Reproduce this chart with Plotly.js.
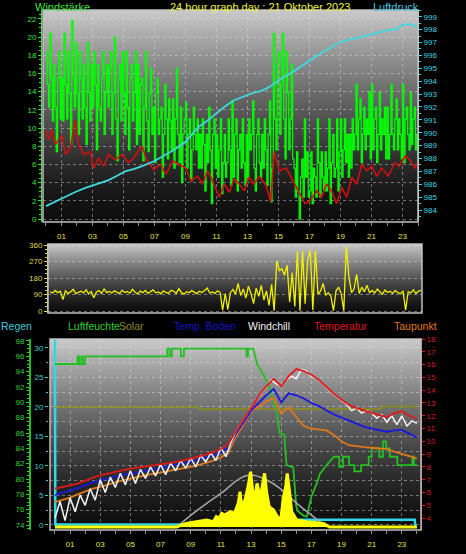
<!DOCTYPE html>
<html><head><meta charset="utf-8">
<script src="https://cdn.plot.ly/plotly-3.0.1.min.js"></script>
<style>html,body{margin:0;padding:0;background:#000;overflow:hidden}#c{width:466px;height:554px}</style>
</head><body><div id="c"></div>
<script>
// ================= DATA =================
const hourTicks  = [1,3,5,7,9,11,13,15,17,19,21,23];
const hourLabels = ['01','03','05','07','09','11','13','15','17','19','21','23'];

// Windstärke (gusts), every 5 minutes from 00:00 to 24:00
const windGust = [
 18.4,14.8,12.3,20.4,15.5,10.8,17.0,12.3,7.4,15.5,18.4,11.0,
 15.5,10.8,20.4,14.8,11.0,18.4,13.9,8.2,21.8,15.5,12.3,19.4,
 13.9,9.3,18.4,15.5,11.0,17.0,12.3,8.2,19.4,13.9,10.8,17.0,
 12.3,18.4,14.8,7.6,17.0,12.3,10.8,15.5,18.4,9.3,13.9,17.0,
 12.3,16.6,18.4,9.3,13.9,20.0,11.0,6.4,15.5,17.0,10.8,18.4,
 13.9,9.3,18.4,12.3,7.6,15.5,17.0,10.8,13.9,18.4,8.2,17.0,
 9.3,14.8,15.5,6.4,12.3,18.4,10.8,7.4,13.9,16.6,9.3,12.3,
 6.2,13.9,15.5,9.3,11.0,12.3,4.6,9.3,14.8,11.0,6.6,13.2,
 10.8,7.6,13.2,5.6,11.0,16.6,9.3,6.2,12.3,4.0,9.3,11.0,
 12.8,5.6,9.3,11.0,4.2,7.6,12.3,9.3,7.6,11.0,5.6,9.3,
 5.6,11.0,8.2,3.1,9.3,6.2,12.3,7.6,1.7,9.3,11.0,5.6,
 9.3,4.6,7.6,11.0,2.8,6.2,9.3,4.6,6.2,11.0,7.6,3.7,
 13.0,4.6,9.3,11.0,3.1,7.6,9.3,5.6,11.0,6.2,3.7,9.3,
 4.6,11.0,7.6,9.3,13.0,5.6,3.1,9.3,11.0,6.2,4.6,9.3,
 5.6,11.0,7.6,3.7,9.3,13.0,1.9,5.6,20.4,11.0,7.6,17.0,
 18.4,9.3,14.8,20.4,11.0,6.6,18.4,13.9,7.6,11.0,17.0,6.6,
 5.6,2.4,7.4,3.1,0.0,4.6,6.6,2.4,11.0,4.6,7.4,2.4,
 3.1,7.4,1.7,5.6,4.6,2.4,11.0,6.2,2.4,7.4,4.6,3.1,
 7.4,3.1,5.6,11.0,1.7,6.2,9.3,4.6,5.6,11.0,3.1,7.4,
 11.0,4.6,7.6,11.0,6.2,9.3,4.6,9.3,5.6,11.0,7.6,9.3,
 14.8,7.6,11.0,13.2,6.2,9.3,12.3,7.6,11.0,9.3,13.9,6.6,
 14.8,7.6,11.0,12.3,6.2,9.3,13.9,7.6,11.0,9.3,12.3,6.6,
 12.3,6.6,9.3,14.8,9.3,7.6,11.0,13.2,7.6,11.0,9.3,6.6,
 14.8,6.2,11.0,12.3,9.3,7.6,13.9,8.2,11.0,12.3,7.6,9.3,
 6.2];

// Windstärke average
const windAvgHours = [0,0.17,0.39,0.6,0.82,1.03,1.25,1.57,1.89,2.1,2.43,2.86,3.08,3.4,3.72,4.04,4.47,4.9,5.33,5.66,6.2,6.5,6.95,7.38,7.74,8.17,8.6,9.03,9.35,9.78,10.1,10.43,10.75,11.18,11.5,11.83,12.15,12.47,12.8,13.1,13.4,13.76,14.2,14.5,14.73,15.05,15.5,15.8,16.06,16.39,16.71,17.03,17.46,17.78,18.1,18.43,18.75,19.08,19.4,19.72,20.04,20.37,20.69,21.01,21.33,21.66,22.08,22.5,22.8,23.16,23.48,23.8,24.0];
const windAvg      = [9.8,8.7,9.8,8.2,8.7,9.2,7.1,7.8,10.9,8.2,7.1,7.4,5.6,6.7,5.8,7.1,6.5,7.1,6.2,6.7,8.0,6.5,5.4,6.0,4.9,6.4,6.0,5.6,4.2,4.7,3.85,5.3,4.2,2.4,3.85,2.95,4.4,3.85,3.1,4.6,3.85,4.7,3.7,1.9,7.4,5.3,5.6,4.6,3.85,2.8,1.7,2.0,3.1,2.4,3.85,3.1,1.7,3.5,2.4,4.6,3.85,6.0,5.3,5.8,4.7,5.6,4.7,6.2,5.8,6.9,6.5,5.6,6.2];

// Luftdruck
const pressHours = [0,0.5,1,1.9,2.5,3,4,4.5,5.1,5.7,6.2,7.0,7.74,8.3,9.0,9.9,10.5,11.0,11.5,12.1,12.5,12.9,13.4,13.8,14.2,14.6,15.2,15.9,16.4,17.0,17.8,18.75,19.5,20.2,20.9,21.5,22.2,22.6,23.05,23.5,24];
const pressure   = [984.3,984.6,984.9,985.4,985.7,985.9,986.3,986.6,987.0,987.2,987.4,987.8,988.3,988.7,989.3,990.5,991.0,991.5,992.0,992.5,992.7,992.9,993.1,993.2,993.4,993.7,994.2,994.7,995.1,995.6,996.2,996.9,997.2,997.4,997.6,997.8,998.0,998.0,998.4,998.4,998.2];

// Windrichtung (degrees), every 10 minutes
const windDir = [
 105,98,112,100,108,62,
 110,96,104,118,95,102,
 108,99,115,94,106,72,
 104,112,96,120,100,107,
 98,110,103,95,114,101,
 106,97,118,102,93,109,
 100,112,96,107,115,99,
 104,94,110,101,97,113,
 108,96,122,100,92,105,
 99,111,103,95,108,101,
 112,125,98,104,96,110,
 102,5,95,8,100,118,
 92,150,85,120,70,135,
 95,40,125,80,140,60,
 110,30,145,2,275,220,
 230,195,250,50,210,25,
 325,2,330,40,280,330,
 5,330,90,110,150,85,
 100,80,2,110,130,95,
 2,350,186,100,120,200,
 95,130,105,140,100,112,
 98,120,105,92,115,101,
 108,96,112,100,94,110,
 4,105,98,116,95,108,
 112];
const dirTicks  = [0,90,180,270,360];
const dirLabels = ['N','O','S','W','N'];

// Bottom panel: every 30 minutes
const temperatur = [6.3,6.4,6.55,6.7,6.95,7.15,7.35,7.5,7.65,7.75,7.87,7.95,8.05,8.1,8.2,8.3,8.4,8.5,8.65,8.8,8.95,9.15,9.4,9.8,10.8,11.7,12.7,13.5,14.3,14.9,14.3,15.1,15.65,15.5,15.2,14.8,14.25,13.7,13.25,12.85,12.6,12.4,12.25,12.05,11.9,12.2,12.35,12.0,11.75];
const tempBoden  = [5.8,5.95,6.15,6.35,6.6,6.8,6.95,7.1,7.25,7.37,7.48,7.6,7.75,7.85,7.95,8.1,8.2,8.3,8.4,8.55,8.7,8.9,9.15,9.5,10.6,11.5,12.4,13.0,13.6,14.1,13.05,13.75,13.6,13.35,13.0,12.75,12.4,12.1,11.85,11.6,11.35,11.15,11.0,10.85,10.75,10.85,10.9,10.6,10.3];
const taupunkt   = [5.25,5.4,5.6,5.85,6.1,6.3,6.45,6.65,6.8,6.95,7.1,7.2,7.35,7.45,7.55,7.7,7.8,7.9,8.0,8.15,8.3,8.5,8.75,9.1,10.4,11.3,12.4,12.7,13.1,13.4,12.15,12.66,11.9,11.2,11.0,10.9,10.85,10.5,10.0,9.7,9.6,9.55,9.5,9.45,9.4,9.2,9.05,8.85,8.65];
// Windchill every 20 minutes
const windchill = [
 4.0,5.3,3.8, 5.6,4.5,5.8, 5.0,6.3,5.4, 7.0,6.0,7.2, 6.4,7.5,6.6, 7.7,6.7,7.8,
 7.1,8.0,7.3, 8.2,7.4,8.3, 7.7,8.5,7.9, 8.7,8.0,8.9, 8.4,9.1,8.5, 9.5,8.8,9.9,
 10.8,11.4,12.1, 12.7,13.2,13.7, 14.3,14.8,14.5, 14.3,14.8,15.1, 14.9,15.6,15.5, 15.1,14.9,14.6,
 14.2,13.8,13.5, 13.2,12.9,12.4, 12.6,12.2,12.4, 12.2,11.8,12.1, 11.5,12.0,11.3, 12.0,11.2,11.6,
 11.4];

// Luftfeuchte
const humHours = [0,1.5,1.5,1.6,1.6,1.75,1.75,1.85,1.85,2.0,2.0,7.45,7.45,7.6,7.6,7.75,7.75,8.35,8.35,8.55,8.55,12.7,12.7,12.8,12.8,13.15,13.4,13.7,14.0,14.5,14.7,14.9,15.2,15.36,15.8,16.0,16.1,16.5,16.7,16.8,17.0,17.35,17.57,18.0,18.5,18.85,18.85,19.1,19.1,19.5,19.5,19.85,19.85,20.3,20.3,20.8,20.8,21.0,21.0,21.5,21.5,21.75,21.75,21.95,21.95,22.2,22.2,22.7,22.7,23.7,23.7,23.8,23.8,24];
const humidity = [95,95,96,96,95,95,96,96,95,95,96,96,97,97,96,96,97,97,96,96,97,97,96,96,97,97,95,94,93,90.3,88.6,86,85.8,81.8,81.5,76.4,75.8,75.2,75.1,76,77.7,79.4,80.7,81.8,82.9,82.9,81.6,81.6,82.9,82.9,81.8,81.8,81,81,81.8,81.8,82.9,82.9,84,84,82.9,82.9,84.9,84.9,84,84,82.9,82.9,81.8,81.8,82.9,82.9,81.8,81.8];

// Solar
const solarHours = [0,8.07,8.7,9.4,10.06,10.5,10.7,10.9,11.05,11.27,11.6,11.9,12.15,12.27,12.38,12.6,12.8,12.97,13.1,13.26,13.4,13.6,13.75,13.9,14.04,14.2,14.5,14.75,14.97,15.14,15.3,15.4,15.54,15.7,16.03,16.7,17.8,18.2,24];
const solar      = [0,0,28,41,54,41,80,67,105,92,118,105,182,272,157,208,311,426,285,234,336,221,311,413,259,157,131,80,54,221,311,413,285,118,54,41,28,0,0];
const solarMaxHours = [8.07,9.17,10.06,11.16,12.27,13.04,14.04,14.92,16.03,17.13,18.0];
const solarMax      = [0,105,182,272,375,400,362,298,182,80,0];
const solarLineHours = [0,9.5,9.6,12.6,12.8,13.0,21.6,21.7,24];
const solarLine      = [12.66,12.66,12.52,12.52,12.62,12.52,12.52,12.72,12.72];

// Regen
const rainHours = [0,0.02,10.9,11.0,23.85,23.9];
const rain      = [32,0.1,0.1,0.9,0.9,-0.3];

// ================= CHART =================
const t5  = windGust.map((_, i) => i / 12);
const t10 = windDir.map((_, i) => i / 6);
const t20 = windchill.map((_, i) => i / 3);
const t30 = temperatur.map((_, i) => i / 2);

const W = 466, H = 554;
const fx = p => p / W;
const fy = p => 1 - p / H;

const tickFont = (c, s) => ({family: 'Liberation Sans Narrow, Liberation Sans, Arial, sans-serif', size: s || 8, color: c});
const grid = {showgrid: true, gridcolor: 'rgba(225,225,225,0.45)', griddash: 'dot', gridwidth: 1};

const traces = [
  {x: t5, y: windGust, xaxis: 'x', yaxis: 'y', type: 'scatter', mode: 'lines', line: {color: '#00ff00', width: 1.2, shape: 'hv'}},
  {x: windAvgHours, y: windAvg, xaxis: 'x', yaxis: 'y', type: 'scatter', mode: 'lines', line: {color: '#d01010', width: 1.6}},
  {x: pressHours, y: pressure, xaxis: 'x', yaxis: 'y2', type: 'scatter', mode: 'lines', line: {color: '#40d8e0', width: 1.8}},
  {x: t10, y: windDir, xaxis: 'x2', yaxis: 'y3', type: 'scatter', mode: 'lines', line: {color: '#f0f000', width: 1.3}},
  {x: solarMaxHours, y: solarMax, xaxis: 'x3', yaxis: 'y9', type: 'scatter', mode: 'lines', line: {color: '#a8a8a8', width: 1.5, shape: 'spline'}},
  {x: solarHours, y: solar, xaxis: 'x3', yaxis: 'y9', type: 'scatter', mode: 'lines', fill: 'tozeroy', fillcolor: '#ffff00', line: {color: '#ffff00', width: 3}},
  {x: rainHours, y: rain, xaxis: 'x3', yaxis: 'y5', type: 'scatter', mode: 'lines', line: {color: '#30d8e8', width: 2.5}},
  {x: solarLineHours, y: solarLine, xaxis: 'x3', yaxis: 'y7', type: 'scatter', mode: 'lines', line: {color: '#8c8c1c', width: 1.6}},
  {x: humHours, y: humidity, xaxis: 'x3', yaxis: 'y6', type: 'scatter', mode: 'lines', line: {color: '#22c022', width: 1.8}},
  {x: t30, y: taupunkt, xaxis: 'x3', yaxis: 'y7', type: 'scatter', mode: 'lines', line: {color: '#e07818', width: 1.8}},
  {x: t30, y: tempBoden, xaxis: 'x3', yaxis: 'y7', type: 'scatter', mode: 'lines', line: {color: '#1818e0', width: 1.8}},
  {x: t20, y: windchill, xaxis: 'x3', yaxis: 'y7', type: 'scatter', mode: 'lines', line: {color: '#f4f4f4', width: 1.5}},
  {x: t30, y: temperatur, xaxis: 'x3', yaxis: 'y7', type: 'scatter', mode: 'lines', line: {color: '#e01818', width: 1.8}}
];

// background gradient image (light grey top -> black bottom)
let stops = '';
for (let k = 0; k <= 10; k++) {
  const s = k / 10;
  const c = Math.round(12 + 190 * Math.pow(1 - s, 1.4));
  stops += "<stop offset='" + s + "' stop-color='rgb(" + c + "," + c + "," + c + ")'/>";
}
const svg = "<svg xmlns='http://www.w3.org/2000/svg' width='20' height='200' viewBox='0 0 20 200' preserveAspectRatio='none'>" +
  "<defs><linearGradient id='g' x1='0' y1='0' x2='0' y2='1'>" + stops + "</linearGradient></defs>" +
  "<rect x='0' y='0' width='20' height='200' fill='url(#g)'/></svg>";
const bgSrc = 'data:image/svg+xml;charset=utf-8,' + encodeURIComponent(svg);

const images = [], shapes = [];
[['x domain','y domain'],['x2 domain','y3 domain'],['x3 domain','y5 domain']].forEach(r => {
  images.push({source: bgSrc, xref: r[0], yref: r[1], x: 0, y: 1, sizex: 1, sizey: 1,
    xanchor: 'left', yanchor: 'top', sizing: 'stretch', layer: 'below'});
  shapes.push({type: 'rect', xref: r[0], yref: r[1], x0: 0, x1: 1, y0: 0, y1: 1,
    line: {color: '#c0c0c0', width: 1.5}, fillcolor: 'rgba(0,0,0,0)', layer: 'above'});
});

const hourAxis = (dom, rng, anchor) => Object.assign({
  domain: dom, range: rng, anchor: anchor, fixedrange: true,
  tickmode: 'array', tickvals: hourTicks, ticktext: hourLabels,
  tickfont: tickFont('#e6e04a', 8),
  ticks: 'outside', ticklen: 3, tickcolor: '#909090', ticklabelstandoff: 3,
  minor: {tickmode: 'linear', tick0: 0, dtick: 1, ticks: 'outside', ticklen: 3, tickcolor: '#909090', showgrid: false},
  zeroline: false, showline: false
}, grid);

const ann = (text, x, y, color, size, anchor) => ({
  text: text, x: x, y: y, xref: 'paper', yref: 'paper', xanchor: anchor || 'left', yanchor: 'middle',
  showarrow: false, font: {family: 'Liberation Sans, Arial, sans-serif', size: size, color: color}, borderpad: 0
});

const layout = {
  width: W, height: H, margin: {l: 0, r: 0, t: 0, b: 0},
  paper_bgcolor: '#000', plot_bgcolor: '#000', showlegend: false,
  xaxis: hourAxis([fx(43), fx(418)], [-0.19, 24.0], 'y'),
  yaxis: Object.assign({domain: [fy(222), fy(10)], range: [-0.32, 22.97], anchor: 'free', position: fx(41), side: 'left',
    tick0: 0, dtick: 2, tickfont: tickFont('#3ee03e'), ticks: 'outside', ticklen: 3, tickcolor: '#3ee03e',
    minor: {dtick: 0.5, ticks: 'outside', ticklen: 2, tickcolor: '#3ee03e', showgrid: false},
    showline: true, linecolor: '#3ee03e', linewidth: 1, zeroline: false, fixedrange: true}, grid),
  yaxis2: {overlaying: 'y', side: 'right', anchor: 'x', range: [983.07, 999.52], tick0: 984, dtick: 1,
    tickfont: tickFont('#40d8e0'), ticks: 'outside', ticklen: 3, tickcolor: '#40d8e0',
    minor: {dtick: 0.5, ticks: 'outside', ticklen: 2, tickcolor: '#40d8e0', showgrid: false},
    showline: true, linecolor: '#9ad8dc', showgrid: false, zeroline: false, fixedrange: true},
  xaxis2: {domain: [fx(48), fx(422)], range: [-0.13, 24.06], anchor: 'y3', showticklabels: false, ticks: '',
    showgrid: false, zeroline: false, showline: false, fixedrange: true},
  yaxis3: Object.assign({domain: [fy(313), fy(244)], range: [-10.9, 365.5], anchor: 'free', position: fx(47), side: 'left',
    tickmode: 'array', tickvals: dirTicks, tickfont: tickFont('#dcd84a'), ticks: 'outside', ticklen: 3, tickcolor: '#dcd84a',
    minor: {tickmode: 'linear', tick0: 0, dtick: 22.5, ticks: 'outside', ticklen: 2, tickcolor: '#dcd84a', showgrid: false},
    showline: true, linecolor: '#dcd84a', zeroline: false, fixedrange: true}, grid),
  yaxis4: {overlaying: 'y3', side: 'right', anchor: 'free', position: fx(432), range: [-10.9, 365.5],
    tickmode: 'array', tickvals: dirTicks, ticktext: dirLabels,
    tickfont: {family: 'Liberation Sans, Arial, sans-serif', size: 13, color: '#f0f040'},
    ticks: '', showline: false, showgrid: false, zeroline: false, fixedrange: true},
  xaxis3: hourAxis([fx(50), fx(421)], [-0.33, 24.27], 'y5'),
  yaxis5: Object.assign({domain: [fy(530), fy(339)], range: [-0.85, 31.5], anchor: 'free', position: fx(48), side: 'left',
    tick0: 0, dtick: 5, tickfont: tickFont('#40c8d0'), ticks: 'outside', ticklen: 3, tickcolor: '#40c8d0',
    minor: Object.assign({dtick: 2.5, ticks: 'outside', ticklen: 2, tickcolor: '#40c8d0'}, grid),
    showline: false, zeroline: false, fixedrange: true}, grid),
  yaxis6: {overlaying: 'y5', anchor: 'free', position: fx(30), side: 'left', range: [73.35, 98.26],
    tick0: 74, dtick: 2, tickfont: tickFont('#30d030'), ticks: 'outside', ticklen: 3, tickcolor: '#30d030',
    minor: {dtick: 0.5, ticks: 'outside', ticklen: 2, tickcolor: '#30d030', showgrid: false},
    showline: true, linecolor: '#22c022', linewidth: 2, showgrid: false, zeroline: false, fixedrange: true},
  yaxis7: {overlaying: 'y5', side: 'right', anchor: 'x3', range: [3.07, 18.0], tick0: 4, dtick: 1,
    tickfont: tickFont('#d81c1c'), ticks: 'outside', ticklen: 3, tickcolor: '#d81c1c',
    showline: true, linecolor: '#d04040', showgrid: false, zeroline: false, fixedrange: true},
  yaxis8: {overlaying: 'y5', side: 'right', anchor: 'free', position: fx(443), range: [3.07, 18.0], tick0: 4, dtick: 1,
    tickfont: tickFont('#2424e0'), ticks: 'outside', ticklen: 3, tickcolor: '#2424e0',
    showline: true, linecolor: '#1414e0', linewidth: 2, showgrid: false, zeroline: false, fixedrange: true},
  yaxis9: {overlaying: 'y5', range: [-23, 1448], visible: false, fixedrange: true},
  images: images,
  shapes: shapes,
  annotations: [
    ann('Windstärke', fx(34), fy(7), '#3ee03e', 11),
    ann('24 hour graph day : 21 Oktober 2023', fx(260), fy(7), '#f0f040', 11, 'center'),
    ann('Luftdruck', fx(372), fy(7), '#40c8e0', 11),
    ann('Regen', fx(0), fy(326), '#40c8d8', 10.5),
    ann('Luftfeuchte', fx(67), fy(326), '#30d030', 10.5),
    ann('Solar', fx(118), fy(326), '#8c8c28', 10.5),
    ann('Temp. Boden', fx(173), fy(326), '#1414c8', 10.5),
    ann('Windchill', fx(247), fy(326), '#f4f4f4', 10.5),
    ann('Temperatur', fx(313), fy(326), '#e01818', 10.5),
    ann('Taupunkt', fx(393), fy(326), '#e07818', 10.5)
  ]
};

Plotly.newPlot('c', traces, layout, {displayModeBar: false, staticPlot: true});
</script>
</body></html>
